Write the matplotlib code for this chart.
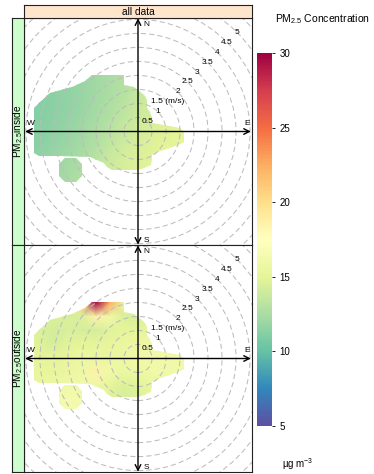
import numpy as np
import matplotlib
matplotlib.use('Agg')
import matplotlib.pyplot as plt
from matplotlib.path import Path
from matplotlib.patches import Circle, PathPatch
from matplotlib.cm import ScalarMappable

plt.rcParams['font.family'] = ['Liberation Sans', 'DejaVu Sans']
plt.rcParams['mathtext.default'] = 'regular'

W, H = 374, 474

# wind speed rings (m/s) and their labels
rings = [0.5, 1.0, 1.5, 2.0, 2.5, 3.0, 3.5, 4.0, 4.5, 5.0, 5.5]
ring_labels = ['0.5', '1', '1.5 (m/s)', '2', '2.5', '3', '3.5', '4', '4.5', '5']

# outline of the area that has data (u, v in m/s)
outline_u = [-1.64, -0.50, -0.50, -0.15, 0.02, 0.20, 0.32, 0.32, 0.42, 0.50, 0.50,
             0.92, 1.51, 1.63, 1.63, 1.50, 1.15, 0.80, 0.50, 0.45, 0.20, 0.00,
             -0.93, -1.11, -1.23, -1.70, -2.77, -3.55, -3.73, -3.73, -3.55, -3.13,
             -2.36, -1.88]
outline_v = [2.02, 2.02, 1.67, 1.60, 1.43, 1.30, 1.13, 0.83, 0.70, 0.48, 0.30,
             0.24, 0.12, 0.00, -0.36, -0.45, -0.60, -0.71, -0.83, -1.19, -1.30, -1.37,
             -1.37, -1.25, -1.13, -0.90, -0.87, -0.87, -0.77, 0.83, 1.01, 1.37,
             1.60, 1.79]
blob_u = [-2.60, -2.20, -2.00, -2.00, -2.20, -2.60, -2.83, -2.83]
blob_v = [-0.95, -0.95, -1.15, -1.60, -1.79, -1.79, -1.60, -1.15]

# concentration surface on a 0.5 m/s grid
grid_u = [-4.0, -3.5, -3.0, -2.5, -2.0, -1.5, -1.0, -0.5, 0.0, 0.5, 1.0, 1.5, 2.0]
grid_v = [2.5, 2.0, 1.5, 1.0, 0.5, 0.0, -0.5, -1.0, -1.5, -2.0]

pm_inside = [
    [11.5, 11.5, 11.6, 11.8, 12.0, 12.2, 12.5, 12.9, 13.3, 13.8, 14.2, 14.5, 14.6],
    [11.4, 11.4, 11.5, 11.7, 11.9, 12.2, 12.5, 12.9, 13.3, 13.8, 14.2, 14.5, 14.6],
    [11.3, 11.3, 11.4, 11.6, 11.9, 12.2, 12.6, 13.0, 13.5, 13.9, 14.3, 14.6, 14.7],
    [11.2, 11.2, 11.4, 11.6, 11.9, 12.3, 12.7, 13.2, 13.7, 14.1, 14.4, 14.7, 14.8],
    [11.2, 11.2, 11.4, 11.7, 12.0, 12.4, 12.9, 13.4, 13.9, 14.3, 14.6, 14.8, 14.9],
    [11.2, 11.3, 11.5, 11.8, 12.2, 12.7, 13.2, 13.7, 14.1, 14.5, 14.8, 15.0, 15.0],
    [11.3, 11.4, 11.7, 12.0, 12.4, 12.9, 13.5, 14.0, 14.4, 14.7, 14.9, 15.0, 15.0],
    [11.4, 11.6, 11.9, 12.2, 12.6, 13.2, 13.8, 14.3, 14.6, 14.8, 15.0, 15.0, 15.0],
    [11.5, 11.8, 12.1, 12.4, 12.8, 13.4, 14.0, 14.4, 14.7, 14.9, 15.0, 15.0, 15.0],
    [11.6, 11.9, 12.2, 12.5, 12.9, 13.5, 14.1, 14.5, 14.8, 15.0, 15.0, 15.0, 15.0],
]

pm_outside = [
    [15.5, 15.5, 15.5, 15.5, 21.0, 29.0, 22.0, 15.5, 15.0, 15.0, 15.5, 15.5, 15.5],
    [15.5, 15.5, 15.3, 15.0, 21.0, 30.0, 22.5, 15.5, 15.0, 15.0, 15.5, 15.5, 15.5],
    [15.0, 14.8, 14.5, 14.3, 14.5, 18.5, 16.0, 14.5, 14.3, 15.0, 15.5, 15.5, 15.5],
    [14.8, 14.5, 14.1, 14.5, 14.3, 14.2, 14.8, 15.1, 15.0, 15.5, 15.8, 15.8, 15.8],
    [15.0, 14.7, 14.3, 14.8, 15.0, 15.1, 15.3, 15.5, 15.8, 16.0, 16.0, 16.0, 16.0],
    [15.3, 15.1, 15.0, 15.3, 15.7, 15.5, 15.5, 15.8, 16.0, 16.1, 16.1, 16.0, 16.0],
    [15.3, 15.2, 15.3, 15.5, 15.9, 18.5, 16.0, 15.5, 15.7, 15.9, 16.0, 16.0, 16.0],
    [15.5, 15.5, 15.7, 16.0, 16.0, 15.8, 15.0, 14.5, 14.8, 15.5, 15.8, 15.8, 15.8],
    [16.0, 16.0, 16.3, 16.5, 16.3, 15.5, 14.7, 14.3, 14.5, 15.3, 15.5, 15.5, 15.5],
    [16.0, 16.0, 16.3, 16.5, 16.3, 15.5, 15.0, 14.7, 14.8, 15.3, 15.5, 15.5, 15.5],
]

panel_names = ['PM$_{2.5}$inside', 'PM$_{2.5}$outside']
cbar_ticks = [5, 10, 15, 20, 25, 30]


def fx(px):
    return px / W


def fy(py):
    return 1 - py / H


def ring(us, vs):
    pts = np.column_stack([us, vs])
    return Path(np.vstack([pts, pts[:1]]), closed=True)


fig = plt.figure(figsize=(W / 100, H / 100), dpi=100)
cmap = plt.get_cmap('Spectral_r')
norm = plt.Normalize(5, 30)

U, V = np.meshgrid(grid_u, grid_v)
shape = Path.make_compound_path(ring(outline_u, outline_v), ring(blob_u, blob_v))

for i, (name, vals) in enumerate(zip(panel_names, [pm_inside, pm_outside])):
    top = 18 + i * 227
    ax = fig.add_axes([fx(24), fy(top + 227), 228 / W, 227 / H])
    ax.set_xlim(-4.07, 4.07)
    ax.set_ylim(-4.05, 4.05)
    ax.set_xticks([])
    ax.set_yticks([])
    for sp in ax.spines.values():
        sp.set_linewidth(0.8)
        sp.set_color('#222222')

    mesh = ax.pcolormesh(U, V, np.array(vals), cmap=cmap, norm=norm,
                         shading='gouraud', zorder=1)
    clip = PathPatch(shape, transform=ax.transData, fc='none', ec='none')
    ax.add_patch(clip)
    mesh.set_clip_path(clip)

    for r in rings:
        ax.add_patch(Circle((0, 0), r, fill=False, ec='#bcbcbc', lw=0.75,
                            ls=(0, (5, 3)), zorder=2))
    for r, lab in zip(rings, ring_labels):
        ax.text(r / np.sqrt(2), r / np.sqrt(2), lab, fontsize=6,
                ha='center', va='center', zorder=4)

    arrow = dict(arrowstyle='<->,head_length=0.4,head_width=0.2', lw=1.0,
                 color='k', shrinkA=0, shrinkB=0)
    ax.annotate('', xy=(4.03, 0), xytext=(-4.03, 0), arrowprops=arrow, zorder=3)
    ax.annotate('', xy=(0, 4.04), xytext=(0, -4.04), arrowprops=arrow, zorder=3)
    ax.text(0.3, 3.83, 'N', fontsize=6, ha='center', va='center')
    ax.text(0.3, -3.88, 'S', fontsize=6, ha='center', va='center')
    ax.text(-3.84, 0.27, 'W', fontsize=6, ha='center', va='center')
    ax.text(3.89, 0.27, 'E', fontsize=6, ha='center', va='center')

    # strip on the left
    sax = fig.add_axes([fx(12.3), fy(top + 227), 11.7 / W, 227 / H],
                       facecolor='#ccffcc')
    sax.set_xticks([])
    sax.set_yticks([])
    for sp in sax.spines.values():
        sp.set_linewidth(0.8)
        sp.set_color('#222222')
    sax.text(0.5, 0.5, name, rotation=90, ha='center', va='center',
             fontsize=7.3, transform=sax.transAxes)

# strip on top
tax = fig.add_axes([fx(24), fy(18), 228 / W, 13 / H], facecolor='#ffe5cc')
tax.set_xticks([])
tax.set_yticks([])
for sp in tax.spines.values():
    sp.set_linewidth(0.8)
    sp.set_color('#222222')
tax.text(0.5, 0.45, 'all data', ha='center', va='center', fontsize=7.3,
         transform=tax.transAxes)

# colour key
cax = fig.add_axes([fx(257), fy(426), 15 / W, 373 / H])
cb = fig.colorbar(ScalarMappable(norm=norm, cmap=cmap), cax=cax, ticks=cbar_ticks)
cb.outline.set_visible(False)
cax.tick_params(length=2.2, width=0.6, labelsize=7, pad=3)

fig.text(fx(322), fy(19), 'PM$_{2.5}$ Concentration', ha='center', va='center',
         fontsize=7.5)
fig.text(fx(282), fy(464), 'µg m$^{-3}$', ha='left', va='center', fontsize=7)

fig.savefig('out.png', dpi=100)
